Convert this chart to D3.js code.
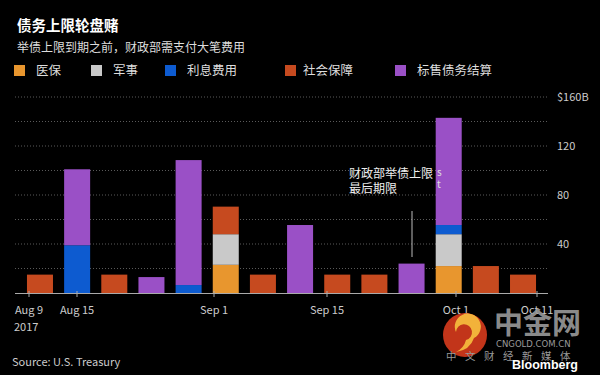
<!DOCTYPE html>
<html>
<head>
<meta charset="utf-8">
<script src="https://cdn.jsdelivr.net/npm/d3@7"></script>
<style>
  body { margin: 0; background: #000; }
  svg { display: block; background: #000; font-family: "Noto Sans CJK SC", "Noto Sans", sans-serif; }
</style>
</head>
<body>
<div id="chart"></div>
<script>
// data
var keys = ["medicare", "military", "interest", "social", "auction"];
var keyLabels = ["医保", "军事", "利息费用", "社会保障", "标售债务结算"];
var keyColors = ["#e8962e", "#c9c9c9", "#0d5bd0", "#c64a1f", "#9a50c6"];

var medicare = [0, 0, 0, 0, 0, 23, 0, 0, 0, 0, 0, 22, 0, 0];
var military = [0, 0, 0, 0, 0, 25, 0, 0, 0, 0, 0, 26, 0, 0];
var interest = [0, 39, 0, 0, 6.5, 0, 0, 0, 0, 0, 0, 7.5, 0, 0];
var social   = [15, 0, 15, 0, 0, 22.5, 15, 0, 15, 15, 0, 0, 22, 15];
var auction  = [0, 62, 0, 13, 102, 0, 0, 55.5, 0, 0, 24, 87.5, 0, 0];

var yTicks = [0, 20, 40, 60, 80, 100, 120, 140, 160];
var yLabels = [40, 80, 120, 160];
var xTickDates = ["2017-08-09", "2017-08-15", "2017-09-01", "2017-09-15", "2017-10-01", "2017-10-11"];
var xTickLabels = ["Aug 9", "Aug 15", "Sep 1", "Sep 15", "Oct 1", "Oct 11"];

var rows = medicare.map(function(d, i) {
  return { id: i, medicare: medicare[i], military: military[i], interest: interest[i], social: social[i], auction: auction[i] };
});

var width = 600, height = 375;

var svg = d3.select("#chart").append("svg")
  .attr("width", width)
  .attr("height", height);

var x = d3.scaleBand()
  .domain(rows.map(function(d) { return d.id; }))
  .range([21.4, 541.6])
  .paddingInner(0.3)
  .paddingOuter(0.15);

var parse = d3.timeParse("%Y-%m-%d");
var xt = d3.scaleTime()
  .domain([parse("2017-08-09"), parse("2017-10-11")])
  .range([29, 537]);

var y = d3.scaleLinear()
  .domain([0, 160])
  .range([293, 97]);

var color = d3.scaleOrdinal().domain(keys).range(keyColors);

// title
svg.append("text").attr("x", 17).attr("y", 31)
  .attr("fill", "#fff").attr("font-size", 14.5).attr("font-weight", "bold")
  .text("债务上限轮盘赌");
svg.append("text").attr("x", 17).attr("y", 52)
  .attr("fill", "#ddd").attr("font-size", 12)
  .text("举债上限到期之前，财政部需支付大笔费用");

// legend
var legendX = [14, 91, 165, 285, 395];
var legend = svg.selectAll(".legend")
  .data(keys)
  .enter().append("g")
  .attr("transform", function(d, i) { return "translate(" + legendX[i] + ",65)"; });
legend.append("rect").attr("width", 11).attr("height", 11)
  .attr("fill", function(d) { return color(d); });
legend.append("text").attr("x", function(d, i) { return i == 3 ? 18 : 22; }).attr("y", 10)
  .attr("fill", "#ddd").attr("font-size", 12.5)
  .text(function(d, i) { return keyLabels[i]; });

// grid
svg.append("g").selectAll("line")
  .data(yTicks.slice(1))
  .enter().append("line")
  .attr("x1", 15).attr("x2", 548)
  .attr("y1", function(d) { return y(d); })
  .attr("y2", function(d) { return y(d); })
  .attr("stroke", "#5a5a5a")
  .attr("stroke-dasharray", "1,2");

svg.append("g").selectAll("text")
  .data(yLabels)
  .enter().append("text")
  .attr("x", 557)
  .attr("y", function(d) { return y(d) + 4; })
  .attr("fill", "#ccc").attr("font-size", 11)
  .text(function(d) { return d == 160 ? "$160B" : d; });

// bars
var series = d3.stack().keys(keys)(rows);
svg.append("g").selectAll("g")
  .data(series)
  .enter().append("g")
  .attr("fill", function(d) { return color(d.key); })
  .selectAll("rect")
  .data(function(d) { return d.filter(function(p) { return p[1] - p[0] > 0; }); })
  .enter().append("rect")
  .attr("x", function(d) { return x(d.data.id); })
  .attr("width", x.bandwidth())
  .attr("y", function(d) { return y(d[1]); })
  .attr("height", function(d) { return y(d[0]) - y(d[1]); });

// x axis
svg.append("line")
  .attr("x1", 15).attr("x2", 548)
  .attr("y1", 293.5).attr("y2", 293.5)
  .attr("stroke", "#aaa");

var ticks = svg.append("g").selectAll("g")
  .data(xTickDates)
  .enter().append("g")
  .attr("transform", function(d) { return "translate(" + Math.round(xt(parse(d))) + ",0)"; });
ticks.append("line")
  .attr("y1", 291).attr("y2", 297)
  .attr("stroke", "#aaa");
ticks.append("text")
  .attr("y", 314)
  .attr("text-anchor", "middle")
  .attr("fill", "#ccc").attr("font-size", 11)
  .text(function(d, i) { return xTickLabels[i]; });

svg.append("text").attr("x", 14).attr("y", 331)
  .attr("fill", "#ccc").attr("font-size", 11)
  .text("2017");

svg.append("text").attr("x", 12).attr("y", 366)
  .attr("fill", "#ccc").attr("font-size", 11)
  .text("Source: U.S. Treasury");

// annotation
svg.append("line")
  .attr("x1", 412).attr("x2", 412)
  .attr("y1", 211).attr("y2", 257)
  .attr("stroke", "#bbb");
svg.append("text").attr("x", 349).attr("y", 178)
  .attr("fill", "#eee").attr("font-size", 12)
  .text("财政部举债上限");
svg.append("text").attr("x", 349).attr("y", 193)
  .attr("fill", "#eee").attr("font-size", 12)
  .text("最后期限");
svg.append("text").attr("x", 437).attr("y", 176)
  .attr("fill", "#ddd").attr("font-size", 10).text("s");
svg.append("text").attr("x", 437).attr("y", 188)
  .attr("fill", "#ddd").attr("font-size", 10).text("t");

// watermark
var wm = svg.append("g");
wm.append("circle").attr("cx", 465).attr("cy", 335).attr("r", 22)
  .attr("fill", "#d23a1c").attr("opacity", 0.92);
wm.append("path")
  .attr("d", "M456,332 a8,8 0 1,1 10,8 q-2,8 -10,12 q14,-2 18,-14 a13,13 0 1,0 -18,-6z")
  .attr("fill", "#f2b23a");
wm.append("text").attr("x", 494).attr("y", 334)
  .attr("fill", "#9a9a9a").attr("font-size", 29).attr("font-weight", "bold")
  .attr("opacity", 0.9)
  .text("中金网");
wm.append("text").attr("x", 496).attr("y", 347)
  .attr("fill", "#9a9a9a").attr("font-size", 8.5)
  .attr("font-family", "DejaVu Sans, sans-serif")
  .text("CNGOLD.COM.CN");
wm.append("text").attr("x", 446).attr("y", 360)
  .attr("fill", "#999").attr("font-size", 10.5)
  .attr("letter-spacing", "8.5px")
  .text("中文财经新媒体");
wm.append("text").attr("x", 512).attr("y", 369)
  .attr("fill", "#fff").attr("font-size", 12.5).attr("font-weight", "bold")
  .attr("font-family", "Liberation Sans, Arial, sans-serif")
  .text("Bloomberg");
</script>
</body>
</html>
